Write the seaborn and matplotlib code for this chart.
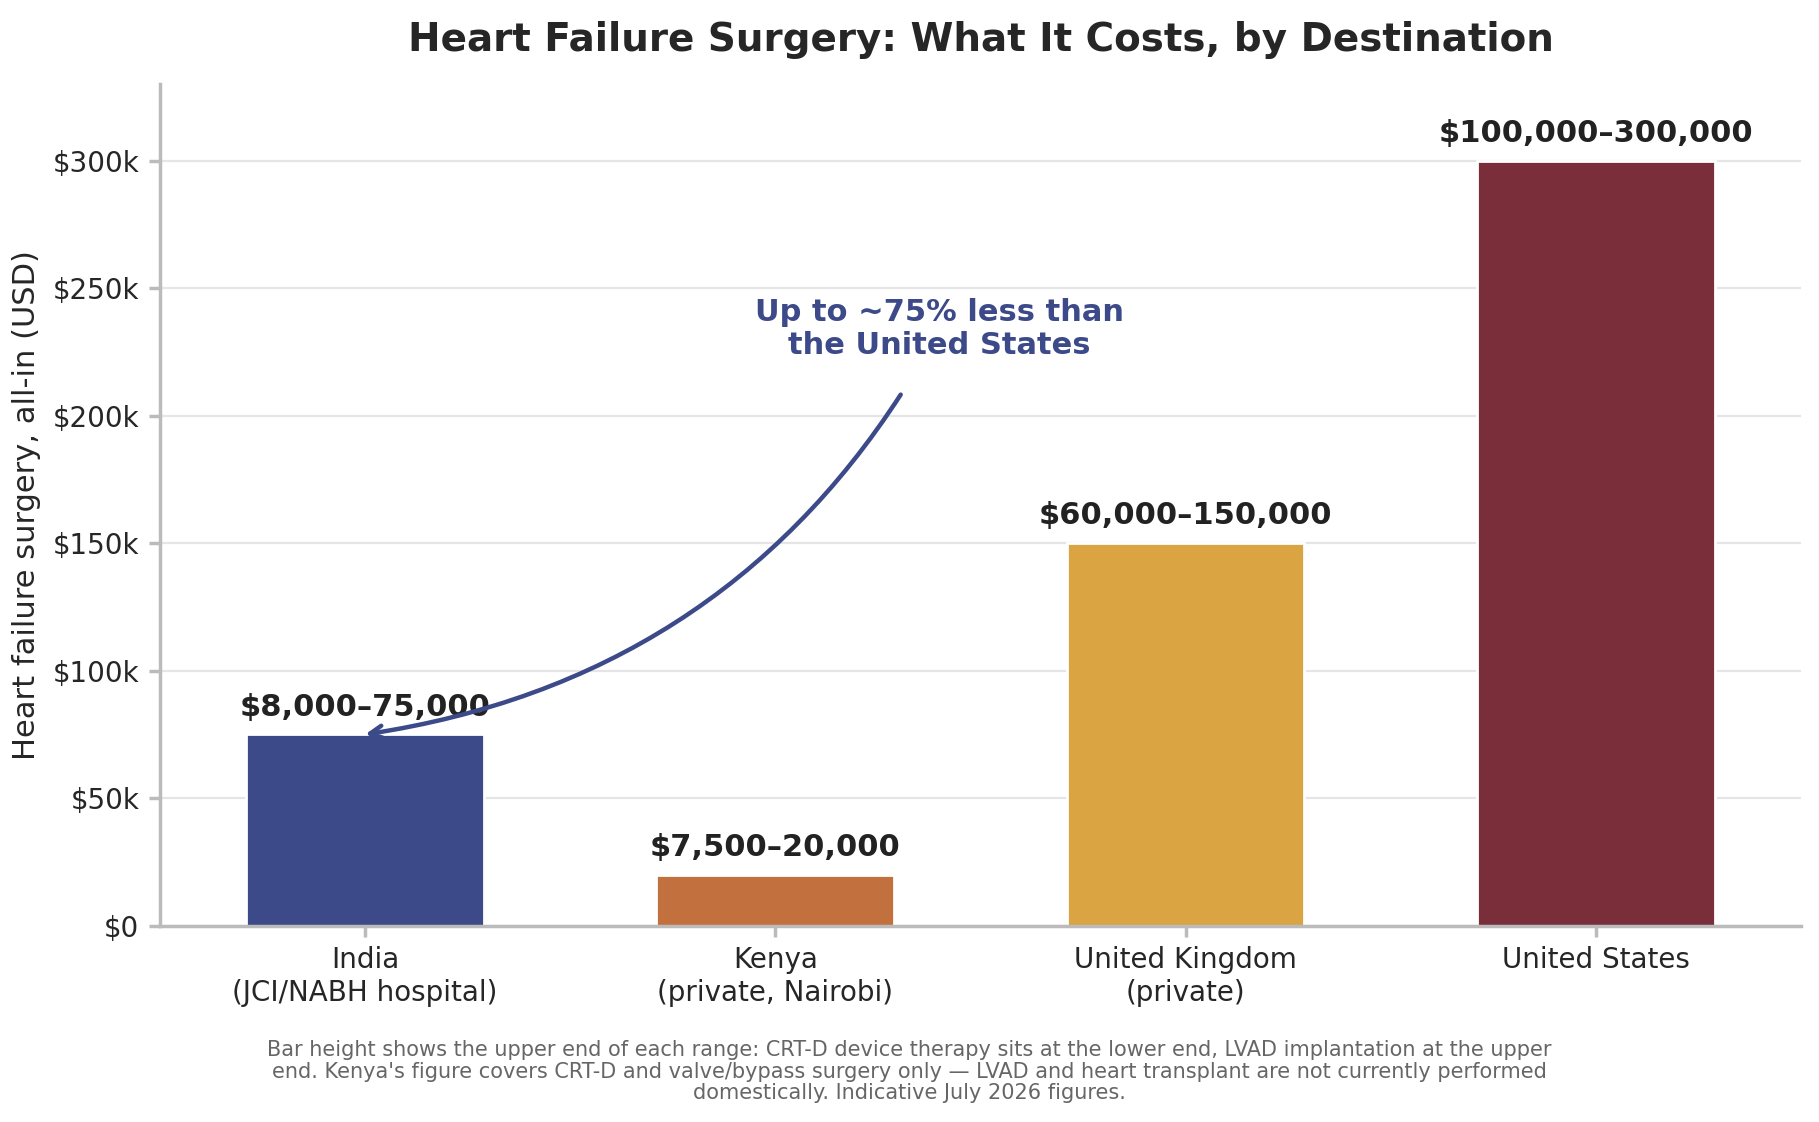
import matplotlib
matplotlib.use("Agg")
import matplotlib.pyplot as plt
import seaborn as sns
import pandas as pd

categories = ["India\n(JCI/NABH hospital)", "Kenya\n(private, Nairobi)", "United Kingdom\n(private)", "United States"]
upper = [75000, 20000, 150000, 300000]
labels = ["$8,000–75,000", "$7,500–20,000", "$60,000–150,000", "$100,000–300,000"]
colors = ["#3D4A89", "#C2703D", "#D9A441", "#7A2E3A"]
yticks = [0, 50000, 100000, 150000, 200000, 250000, 300000]
yticklabels = ["$0", "$50k", "$100k", "$150k", "$200k", "$250k", "$300k"]

sns.set_theme(style="white")
plt.rcParams['font.family'] = ['DejaVu Sans']
df = pd.DataFrame({"cat": categories, "val": upper})

fig = plt.figure(figsize=(9.095, 5.61), dpi=200)
ax = fig.add_axes([0.088, 0.175, 0.902, 0.75])
sns.barplot(data=df, x="cat", y="val", hue="cat", palette=colors, width=0.58, ax=ax, legend=False, saturation=1)
ax.set_ylim(0, 330000)
ax.set_yticks(yticks)
ax.set_yticklabels(yticklabels, fontsize=10)
ax.tick_params(axis='x', labelsize=10, length=4, color="#bbbbbb")
ax.tick_params(axis='y', length=4, color="#bbbbbb", left=True)
ax.tick_params(axis='x', bottom=True)
ax.set_xlabel("")
ax.set_ylabel("Heart failure surgery, all-in (USD)", fontsize=11)
ax.yaxis.grid(True, color="#e5e5e5", linewidth=0.8)
ax.set_axisbelow(True)
for s in ["top", "right"]:
    ax.spines[s].set_visible(False)
for s in ["left", "bottom"]:
    ax.spines[s].set_color("#bbbbbb")
for i, (v, l) in enumerate(zip(upper, labels)):
    ax.text(i, v + 5000, l, ha="center", va="bottom", fontsize=11, fontweight="bold", color="#222222")
ax.set_title("Heart Failure Surgery: What It Costs, by Destination", fontsize=14, fontweight="bold", pad=12)

ax.annotate("Up to ~75% less than\nthe United States", xy=(0.0, 75000), xytext=(1.4, 234000),
            ha="center", va="center", fontsize=11, fontweight="bold", color="#3D4A89",
            arrowprops=dict(arrowstyle="->", color="#3D4A89", lw=1.6,
                            connectionstyle="arc3,rad=-0.25", shrinkA=12, shrinkB=0))

fig.text(0.5, 0.045, "Bar height shows the upper end of each range: CRT-D device therapy sits at the lower end, LVAD implantation at the upper\n"
         "end. Kenya's figure covers CRT-D and valve/bypass surgery only — LVAD and heart transplant are not currently performed\n"
         "domestically. Indicative July 2026 figures.", ha="center", va="center", fontsize=7.5, color="#666666", linespacing=1.1)
fig.savefig("out.png", dpi=200)
